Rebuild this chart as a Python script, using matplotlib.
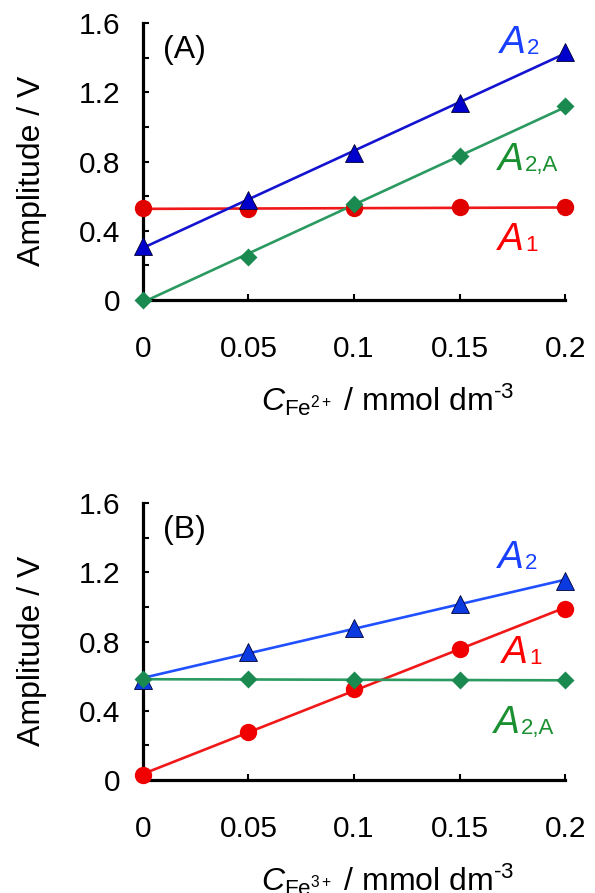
import numpy as np
import matplotlib
matplotlib.use("Agg")
import matplotlib.pyplot as plt
from matplotlib.ticker import MultipleLocator

plt.rcParams['font.family'] = ['Liberation Sans', 'DejaVu Sans']
plt.rcParams['mathtext.fontset'] = 'custom'
plt.rcParams['mathtext.rm'] = 'Liberation Sans'
plt.rcParams['mathtext.it'] = 'Liberation Sans:italic'
plt.rcParams['mathtext.bf'] = 'Liberation Sans:bold'

# concentration (mmol dm-3)
conc = [0, 0.05, 0.1, 0.15, 0.2]
x_ticks = [0, 0.05, 0.1, 0.15, 0.2]
x_tick_labels = ['0', '0.05', '0.1', '0.15', '0.2']
y_ticks = [0, 0.4, 0.8, 1.2, 1.6]
y_tick_labels = ['0', '0.4', '0.8', '1.2', '1.6']

# panel A: Fe2+
a1_fe2 = [0.53, 0.525, 0.53, 0.535, 0.535]
a2_fe2 = [0.31, 0.58, 0.85, 1.14, 1.435]
a2a_fe2 = [0.0, 0.25, 0.555, 0.83, 1.12]

# panel B: Fe3+
a1_fe3 = [0.03, 0.275, 0.525, 0.76, 0.99]
a2_fe3 = [0.58, 0.74, 0.88, 1.02, 1.15]
a2a_fe3 = [0.582, 0.582, 0.58, 0.578, 0.576]

RED = '#e00000'
RED_LINE = '#f01818'
RED_TXT = '#ff0000'
BLUE = '#0000cc'
GREEN = '#1a8a50'
GREEN_LINE = '#2a9a60'
GREEN_TXT = '#1a9030'
BLUE_TXT = '#1a40ff'


def fit_line(ax, x, y, color):
    k, b = np.polyfit(x, y, 1)
    xs = np.array([x[0], x[-1]])
    ax.plot(xs, k * xs + b, color=color, lw=1.9, zorder=2)


def series_label(ax, x, y, sub, color):
    # italic A with a small upright subscript sitting near the baseline
    t = ax.text(x, y, 'A', style='italic', fontsize=28, color=color,
                ha='left', va='baseline')
    ax.annotate(sub, xy=(1, 0), xycoords=t, xytext=(1, 5),
                textcoords='offset points', fontsize=16, color=color,
                ha='left', va='baseline')


def setup(ax, panel, sub):
    ax.set_xlim(0, 0.2)
    ax.set_ylim(0, 1.6)
    for s in ['top', 'right']:
        ax.spines[s].set_visible(False)
    for s in ['left', 'bottom']:
        ax.spines[s].set_linewidth(2.3)
    ax.set_xticks(x_ticks)
    ax.set_xticklabels(x_tick_labels)
    ax.set_yticks(y_ticks)
    ax.set_yticklabels(y_tick_labels)
    ax.yaxis.set_minor_locator(MultipleLocator(0.2))
    ax.tick_params(axis='both', which='both', direction='in', length=4,
                   width=1.5, labelsize=21.5)
    ax.tick_params(axis='y', which='both', pad=16)
    ax.tick_params(axis='x', which='both', pad=25)
    ax.text(-0.262, 0.466, 'Amplitude / V', transform=ax.transAxes,
            rotation=90, ha='center', va='center', fontsize=23)
    ax.text(0.28, -0.40,
            r'$\mathit{C}_{\mathrm{Fe}^{' + sub + r'}}$ / mmol dm$^{\mathrm{' + '\u2010' + r'3}}$',
            transform=ax.transAxes, ha='left', va='baseline', fontsize=23)
    ax.text(0.0096, 1.445, panel, fontsize=23, ha='left', va='center')


fig = plt.figure(figsize=(5.95, 8.93), dpi=100)
ax1 = fig.add_axes([0.240, 0.664, 0.710, 0.310])
ax2 = fig.add_axes([0.240, 0.1265, 0.710, 0.310])

# panel A
setup(ax1, '(A)', '2+')
fit_line(ax1, conc, a1_fe2, RED_LINE)
fit_line(ax1, conc, a2_fe2, '#1414d0')
fit_line(ax1, conc, a2a_fe2, GREEN_LINE)
ax1.plot(conc, a1_fe2, 'o', ms=12.5, color=RED, mec='none', clip_on=False, zorder=4)
ax1.plot(conc, a2a_fe2, 'D', ms=9.5, color=GREEN, mec='none', clip_on=False, zorder=5)
ax1.plot(conc, a2_fe2, '^', ms=12.5, color=BLUE, mec='#000033', mew=0.6,
         clip_on=False, zorder=6)
series_label(ax1, 0.169, 1.428, '2', BLUE_TXT)
series_label(ax1, 0.168, 0.751, '2,A', GREEN_TXT)
series_label(ax1, 0.168, 0.289, '1', RED_TXT)

# panel B
setup(ax2, '(B)', '3+')
fit_line(ax2, conc, a1_fe3, RED_LINE)
fit_line(ax2, conc, a2_fe3, '#2050ff')
fit_line(ax2, conc, a2a_fe3, GREEN_LINE)
ax2.plot(conc, a1_fe3, 'o', ms=12.5, color='#f00000', mec='none', clip_on=False, zorder=4)
ax2.plot(conc, a2_fe3, '^', ms=12.5, color='#0a3ae0', mec='#000033', mew=0.6,
         clip_on=False, zorder=5)
ax2.plot(conc, a2a_fe3, 'D', ms=9.5, color=GREEN, mec='none', clip_on=False, zorder=6)
series_label(ax2, 0.168, 1.224, '2', BLUE_TXT)
series_label(ax2, 0.170, 0.674, '1', RED_TXT)
series_label(ax2, 0.166, 0.27, '2,A', GREEN_TXT)

fig.savefig('out.png', dpi=100)
